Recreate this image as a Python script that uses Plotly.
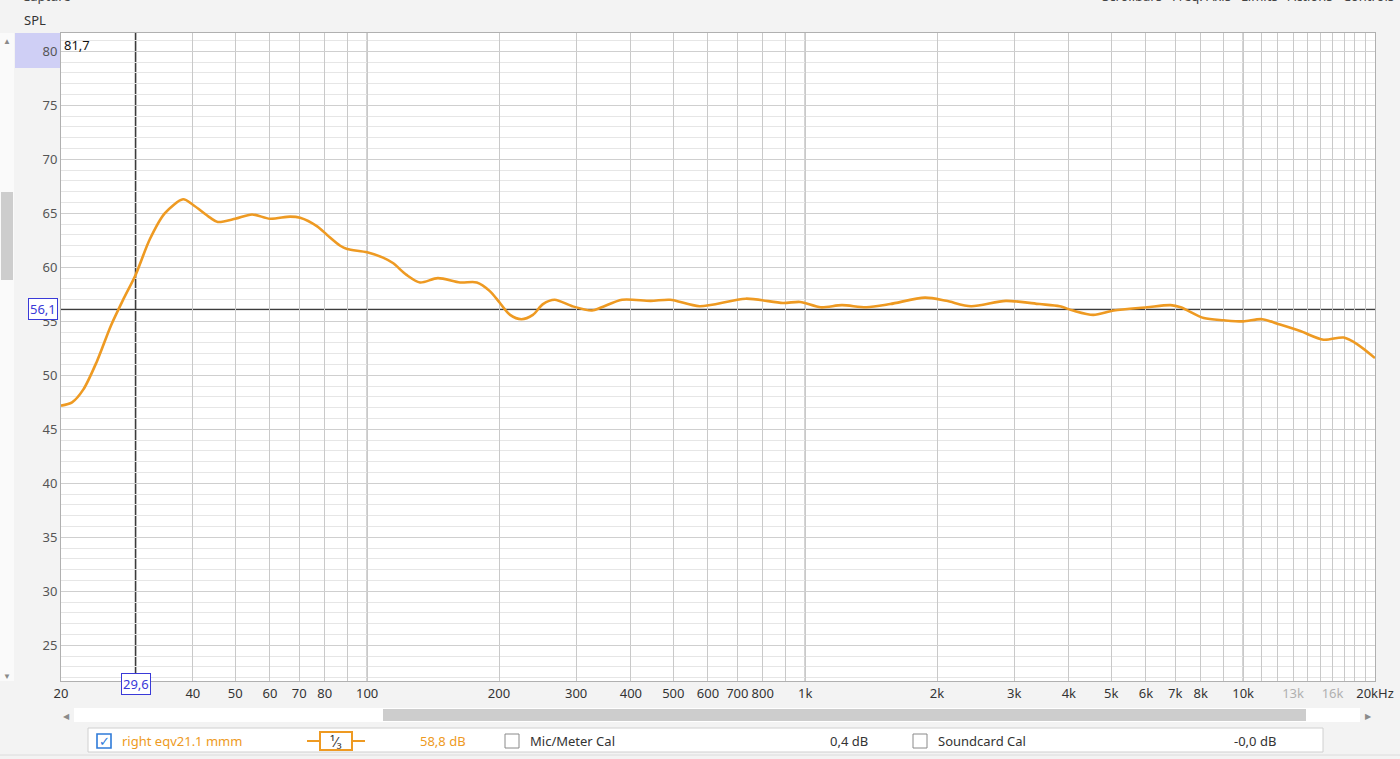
import numpy as np
import plotly.graph_objects as go

# ---------------- data ----------------
freq_hz = [20, 21.2, 22.5, 24.1, 26.0, 27.8, 29.6, 31.9, 34.5, 38, 40, 43.8, 45.6,
           50, 54.6, 60, 66.7, 70.3, 76.9, 81, 86.8, 90, 100, 108.7, 114.5, 123, 132,
           145, 163, 178, 190.6, 201, 212, 225, 239, 252, 268, 294, 326, 343, 382,
           444, 492, 574, 732, 890, 974, 1086, 1213, 1380, 1564, 1878, 2100, 2392,
           2872, 3432, 3812, 4088, 4548, 5066, 6030, 6830, 7200, 8130, 9034, 10000,
           11040, 12140, 13500, 15256, 16960, 18200, 20000]
spl_db = [47.2, 47.5, 48.7, 51.2, 54.6, 57.1, 59.3, 62.6, 65.0, 66.3, 65.8, 64.6, 64.2,
          64.5, 64.9, 64.5, 64.7, 64.6, 63.8, 63.0, 62.0, 61.7, 61.4, 60.9, 60.4, 59.3, 58.6,
          59.0, 58.6, 58.6, 57.8, 56.7, 55.6, 55.2, 55.6, 56.6, 57.0, 56.4, 56.0, 56.3, 57.0,
          56.9, 57.0, 56.4, 57.1, 56.7, 56.8, 56.3, 56.5, 56.3, 56.6, 57.2, 56.9, 56.4,
          56.9, 56.6, 56.4, 56.0, 55.6, 56.0, 56.3, 56.5, 56.3, 55.3, 55.1, 55.0,
          55.2, 54.7, 54.1, 53.3, 53.5, 52.9, 51.6]

grid_freqs = [20, 40, 50, 60, 70, 80, 90, 100, 200, 300, 400, 500, 600, 700, 800, 900,
              1000, 2000, 3000, 4000, 5000, 6000, 7000, 8000, 9000, 10000, 11000, 12000,
              13000, 14000, 15000, 16000, 17000, 18000, 19000, 20000]
label_map = {20: "20", 40: "40", 50: "50", 60: "60", 70: "70", 80: "80", 100: "100",
             200: "200", 300: "300", 400: "400", 500: "500", 600: "600", 700: "700",
             800: "800", 1000: "1k", 2000: "2k", 3000: "3k", 4000: "4k", 5000: "5k",
             6000: "6k", 7000: "7k", 8000: "8k", 10000: "10k",
             13000: "<span style='color:#b0b0b0'>13k</span>",
             16000: "<span style='color:#b0b0b0'>16k</span>", 20000: "20kHz"}
decade_freqs = [100, 1000, 10000]

cursor_freq = 29.6
cursor_spl = 56.1
top_value = 81.7
y_range = [21.7, 81.7]

trace_name = "right eqv21.1 mmm"
trace_level = "58,8 dB"
mic_cal = "0,4 dB"
sound_cal = "-0,0 dB"

ORANGE = "#ee9a22"
BLUE = "#3a3ad8"
FONT = "Noto Sans"

# ---------------- geometry helpers (pixel -> paper) ----------------
L, T, R, B = 61, 33, 25, 78
W, H = 1400 - L - R, 759 - T - B


def px(x):
    return (x - L) / W


def py(y):
    return (759 - B - y) / H


fig = go.Figure()
fig.add_trace(go.Scatter(x=freq_hz, y=spl_db, mode="lines",
                         line=dict(color=ORANGE, width=2.6, shape="spline", smoothing=0.8),
                         hoverinfo="x+y", showlegend=False))

shapes = []
for f in decade_freqs:
    shapes.append(dict(type="line", xref="x", yref="paper", x0=f, x1=f, y0=0, y1=1,
                       line=dict(color="#a0a0a0", width=1.2), layer="between"))
shapes.append(dict(type="line", xref="x", yref="paper", x0=cursor_freq, x1=cursor_freq,
                   y0=0, y1=1, line=dict(color="#3c3c3c", width=1.6), layer="between"))
shapes.append(dict(type="line", xref="paper", yref="y", x0=0, x1=1, y0=cursor_spl,
                   y1=cursor_spl, line=dict(color="#3c3c3c", width=1.6), layer="between"))

shapes.append(dict(type="rect", xref="paper", yref="paper", x0=px(0), x1=px(14),
                   y0=py(681), y1=py(33), fillcolor="#fafafa", line=dict(width=0),
                   layer="below"))
shapes.append(dict(type="rect", xref="paper", yref="paper", x0=px(1), x1=px(13),
                   y0=py(280), y1=py(192), fillcolor="#cdcdcd", line=dict(width=0),
                   layer="below"))
shapes.append(dict(type="rect", xref="paper", yref="paper", x0=px(15), x1=px(60),
                   y0=py(68), y1=py(33), fillcolor="#cfcff5", line=dict(width=0),
                   layer="below"))
shapes.append(dict(type="rect", xref="paper", yref="paper", x0=px(74), x1=px(1360),
                   y0=py(722), y1=py(708), fillcolor="#ffffff", line=dict(width=0),
                   layer="below"))
shapes.append(dict(type="rect", xref="paper", yref="paper", x0=px(383), x1=px(1306),
                   y0=py(721), y1=py(709), fillcolor="#cdcdcd", line=dict(width=0),
                   layer="below"))
shapes.append(dict(type="rect", xref="paper", yref="paper", x0=px(88), x1=px(1323),
                   y0=py(752), y1=py(728), fillcolor="#ffffff",
                   line=dict(color="#d0d0d0", width=1), layer="below"))
for x0, col, w in [(97, "#2f7bd9", 1.6), (505, "#8a8a8a", 1), (913, "#8a8a8a", 1)]:
    shapes.append(dict(type="rect", xref="paper", yref="paper", x0=px(x0), x1=px(x0 + 14),
                       y0=py(748), y1=py(734), fillcolor="#ffffff",
                       line=dict(color=col, width=w), layer="above"))
shapes.append(dict(type="line", xref="paper", yref="paper", x0=px(307), x1=px(365),
                   y0=py(741), y1=py(741), line=dict(color=ORANGE, width=2), layer="above"))
shapes.append(dict(type="rect", xref="paper", yref="paper", x0=px(320), x1=px(352),
                   y0=py(750), y1=py(732), fillcolor="#ffffff",
                   line=dict(color=ORANGE, width=2), layer="above"))
shapes.append(dict(type="line", xref="paper", yref="paper", x0=px(0), x1=px(1400),
                   y0=py(755), y1=py(755), line=dict(color="#dcdcdc", width=1),
                   layer="below"))

ann = []


def text(x, y, s, color="#333333", size=13, xanchor="left", yanchor="middle", **kw):
    ann.append(dict(xref="paper", yref="paper", x=px(x), y=py(y), text=s, showarrow=False,
                    xanchor=xanchor, yanchor=yanchor,
                    font=dict(family=FONT, size=size, color=color), **kw))


text(20, 7, "Capture", color="#444444", yanchor="bottom")
text(22, 20, "SPL", color="#333333")
text(1396, 7, "Scrollbars   Freq. Axis   Limits   Actions   Controls", color="#444444",
     xanchor="right", yanchor="bottom")
text(62, 45, f"{top_value:.1f}".replace(".", ","), color="#111111", size=13)
ann.append(dict(xref="x", yref="paper", x=np.log10(cursor_freq), y=py(695),
                text=f"{cursor_freq:.1f}".replace(".", ","), showarrow=False,
                font=dict(family=FONT, size=13, color=BLUE), bgcolor="#ffffff",
                bordercolor=BLUE, borderwidth=1, borderpad=1))
ann.append(dict(xref="paper", yref="y", x=px(58), y=cursor_spl, xanchor="right",
                text=f"{cursor_spl:.1f}".replace(".", ","), showarrow=False,
                font=dict(family=FONT, size=13, color=BLUE), bgcolor="#ffffff",
                bordercolor=BLUE, borderwidth=1, borderpad=1))
text(7, 40, "▲", color="#8a8a8a", size=8, xanchor="center")
text(7, 675, "▼", color="#8a8a8a", size=8, xanchor="center")
text(66, 715, "◀", color="#8a8a8a", size=8, xanchor="center")
text(1368, 715, "▶", color="#8a8a8a", size=8, xanchor="center")
text(104, 741, "✓", color="#2f7bd9", size=13, xanchor="center")
text(120, 741, trace_name, color=ORANGE)
text(336, 741, "¹⁄₃", color="#333333", size=14, xanchor="center")
text(418, 741, trace_level, color=ORANGE)
text(528, 741, "Mic/Meter Cal", color="#333333")
text(870, 741, mic_cal, color="#333333", xanchor="right")
text(936, 741, "Soundcard Cal", color="#333333")
text(1278, 741, sound_cal, color="#333333", xanchor="right")

fig.update_layout(
    width=1400, height=759,
    margin=dict(l=L, r=R, t=T, b=B, autoexpand=False),
    paper_bgcolor="#f3f3f3", plot_bgcolor="#ffffff",
    shapes=shapes, annotations=ann,
    font=dict(family=FONT, size=13, color="#333333"),
    xaxis=dict(type="log", range=[np.log10(20), np.log10(20000)], automargin=False,
               tickmode="array", tickvals=grid_freqs,
               ticktext=[label_map.get(f, "") for f in grid_freqs],
               showgrid=True, gridcolor="#c9c9c9", gridwidth=1,
               ticks="", tickfont=dict(family=FONT, size=13, color="#333333"),
               showline=True, linecolor="#b0b0b0", mirror=True, zeroline=False),
    yaxis=dict(range=y_range, tick0=0, dtick=5, showgrid=True, gridcolor="#cfcfcf",
               automargin=False,
               gridwidth=1, ticks="", tickfont=dict(family=FONT, size=13, color="#555555"),
               minor=dict(dtick=1, tick0=0, showgrid=True, gridcolor="#e6e6e6"),
               showline=True, linecolor="#b0b0b0", mirror=True, zeroline=False),
)

fig.write_html("out.html", config={"displayModeBar": False},
               post_script="document.body.style.margin='0';document.body.style.overflow='hidden';")
